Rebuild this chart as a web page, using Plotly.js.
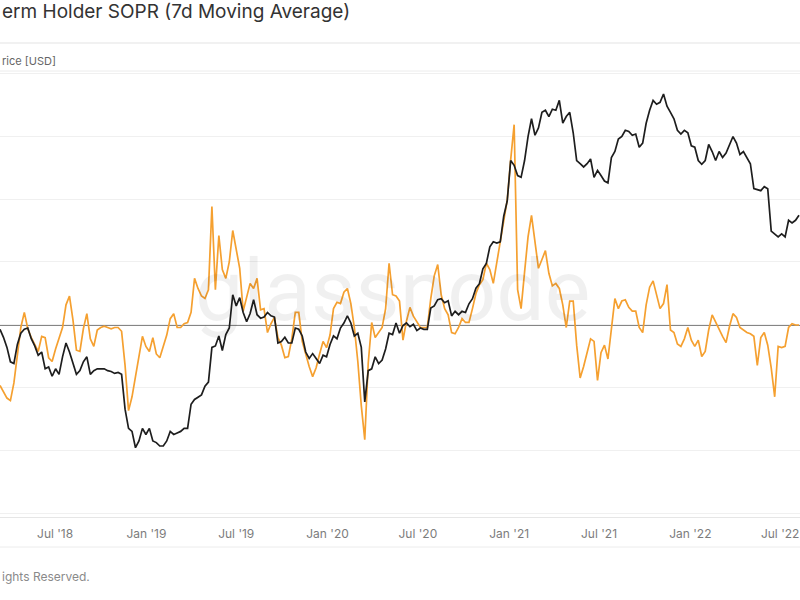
<!DOCTYPE html>
<html>
<head>
<meta charset="utf-8">
<script src="https://cdn.plot.ly/plotly-3.0.1.min.js"></script>
<style>html,body{margin:0;padding:0;background:#fff;}#chart{width:800px;height:600px;}</style>
</head>
<body>
<div id="chart"></div>
<script>
// Weekly samples starting Monday 2018-03-12
const startDate = "2018-03-12";
const weeks = 231;

// BTC price [USD], weekly
const price = [
  // 2018
  9200, 8600, 7900, 7000, 6900, 8100, 8900, 9200, 9300, 8500, 8000, 7400, 7600, 6600, 6700, 6200,
  6600, 6300, 7300, 8200, 7600, 6900, 6300, 6500, 7000, 7300, 6300, 6500, 6600, 6600, 6600, 6500,
  6450, 6350, 6400, 6300, 4700, 4000, 3900, 3400, 3600, 4000, 3800,
  // 2019
  4000, 3600, 3550, 3450, 3450, 3600, 3900, 3800, 3850, 3900, 4000, 4000, 4900, 5100, 5200, 5300,
  5700, 5900, 7900, 8000, 8700, 7700, 8800, 9300, 12300, 11200, 12000, 10600, 9800, 10500, 11800, 10400,
  10100, 10200, 10600, 10300, 10200, 8200, 8300, 8600, 8200, 8200, 9300, 9200, 8700, 7600, 7200, 7500,
  7200, 6900, 7400, 7300,
  // 2020
  8100, 8700, 8500, 9300, 9700, 10300, 9700, 8700, 8900, 7900, 5000, 6500, 6600, 7300, 6900, 7100,
  7800, 8900, 8800, 9700, 8900, 9500, 9700, 9400, 9600, 9100, 9300, 9200, 9200, 11000, 11200, 11800,
  11900, 11500, 11700, 10300, 10700, 10400, 10700, 10600, 11400, 11900, 13000, 13500, 15300, 16000, 18400, 19200,
  19000, 19200, 23800, 27000,
  // 2021
  38000, 36500, 33500, 33000, 38000, 46500, 54000, 47000, 50000, 57000, 58000, 55000, 58500, 58000, 63000, 52000,
  55000, 57000, 48000, 38000, 37000, 36000, 37000, 38500, 33000, 35000, 33500, 32000, 31500, 39000, 41000, 45500,
  46500, 49000, 48500, 47000, 47500, 42500, 44000, 52000, 58000, 63000, 61000, 62000, 66500, 60000, 57000, 54000,
  49000, 47500, 49000, 48000,
  // 2022
  43000, 42500, 38000, 36800, 38000, 43500, 41000, 38000, 41000, 39000, 40500, 43500, 46500, 44000, 40000, 41000,
  39000, 37000, 30000, 29800, 29500, 30500, 30000, 21000, 20500, 20000, 20500, 20000, 23000, 22500, 23000, 24000
];

// Short-Term Holder SOPR (7d MA), weekly
const sopr = [
  0.952, 0.947, 0.942, 0.940, 0.954, 0.976, 0.998, 1.010, 0.997, 0.990,
  0.985, 0.979, 0.991, 0.990, 0.974, 0.971, 0.981, 0.990, 0.998, 1.016,
  1.023, 1.004, 0.980, 0.979, 0.997, 1.009, 0.989, 0.983, 0.996, 0.998,
  0.999, 0.998, 0.997, 0.998, 0.998, 0.995, 0.968, 0.932, 0.943, 0.959,
  0.976, 0.991, 0.983, 0.979, 0.990, 0.977, 0.974, 0.983, 0.992, 1.005,
  1.009, 0.998, 0.998, 1.001, 1.002, 1.010, 1.037, 1.029, 1.023, 1.021,
  1.028, 1.094, 1.028, 1.071, 1.044, 1.037, 1.050, 1.075, 1.060, 1.045,
  1.011, 1.021, 1.033, 1.029, 1.037, 1.012, 1.013, 0.994, 1.001, 1.006,
  0.990, 0.984, 0.974, 0.975, 0.989, 1.010, 1.010, 0.987, 0.976, 0.967,
  0.959, 0.966, 0.977, 0.987, 0.982, 0.992, 1.013, 1.018, 1.017, 1.026,
  1.029, 1.017, 0.998, 0.971, 0.936, 0.909, 0.970, 1.002, 0.990, 0.994,
  0.998, 1.013, 1.049, 1.024, 1.023, 1.019, 0.988, 1.003, 1.014, 1.007,
  1.002, 0.998, 0.998, 0.998, 1.021, 1.039, 1.048, 1.024, 1.013, 1.008,
  0.994, 0.993, 0.998, 1.005, 1.002, 1.002, 1.013, 1.025, 1.032, 1.036,
  1.049, 1.044, 1.033, 1.049, 1.067, 1.082, 1.099, 1.131, 1.159, 1.028,
  1.013, 1.042, 1.070, 1.087, 1.066, 1.045, 1.052, 1.059, 1.041, 1.031,
  1.033, 1.029, 1.016, 0.998, 1.019, 1.019, 0.984, 0.958, 0.967, 0.979,
  0.989, 0.987, 0.956, 0.978, 0.984, 0.973, 0.998, 1.021, 1.013, 1.019,
  1.020, 1.014, 1.011, 1.011, 0.998, 0.994, 1.016, 1.030, 1.035, 1.024,
  1.013, 1.017, 1.032, 0.996, 0.994, 0.985, 0.983, 0.989, 0.998, 0.988,
  0.983, 0.988, 0.975, 0.979, 0.996, 1.008, 1.002, 0.997, 0.991, 0.986,
  0.999, 1.009, 1.006, 0.998, 0.996, 0.994, 0.993, 0.991, 0.968, 0.990,
  0.994, 0.984, 0.966, 0.943, 0.983, 0.982, 0.983, 0.998, 1.001, 1.000,
  1.000
];

const titleText = "erm Holder SOPR (7d Moving Average)";
const legendText = "rice [USD]";
const footerText = "ights Reserved.";
const watermarkText = "glassnode";
const xRange = ["2018-03-12", "2022-08-10"];

// weekly date axis
const dates = [];
const t0 = Date.parse(startDate + "T00:00:00Z");
for (let i = 0; i < weeks; i++) {
  dates.push(new Date(t0 + i * 7 * 86400000).toISOString().slice(0, 10));
}

const traces = [
  {x: dates, y: sopr, type: "scatter", mode: "lines", yaxis: "y",
   line: {color: "#f5a030", width: 1.7}, hoverinfo: "skip"},
  {x: dates, y: price, type: "scatter", mode: "lines", yaxis: "y2",
   line: {color: "#1e1e1e", width: 1.7}, hoverinfo: "skip"}
];

const plotTop = 72, plotBottom = 517, H = plotBottom - plotTop;
const py = (pix) => (plotBottom - pix) / H;

const layout = {
  width: 800, height: 600,
  margin: {l: 0, r: 0, t: plotTop, b: 600 - plotBottom, pad: 0},
  paper_bgcolor: "#ffffff", plot_bgcolor: "#ffffff",
  showlegend: false,
  font: {family: "Inter, 'Open Sans', sans-serif"},
  xaxis: {
    type: "date", range: xRange, tickformat: "%b '%y", dtick: "M6", tick0: "2018-01-01",
    showgrid: false, zeroline: false, showline: true, linecolor: "#e6e6e6", linewidth: 1,
    ticks: "", ticklabelstandoff: 6,
    tickfont: {family: "Inter, 'Open Sans', sans-serif", size: 12, color: "#7c7c7c"}
  },
  yaxis: {
    range: [0.8476, 1.2008], dtick: 0.05, tick0: 1, showgrid: true, gridcolor: "#f0f0f0",
    gridwidth: 1, showticklabels: false, zeroline: false, ticks: ""
  },
  yaxis2: {
    type: "log", range: [3.2786, 4.903], overlaying: "y", side: "right",
    showgrid: false, showticklabels: false, zeroline: false, ticks: ""
  },
  shapes: [
    {type: "line", xref: "paper", yref: "y", x0: 0, x1: 1, y0: 1, y1: 1,
     line: {color: "#5c5c5c", width: 1.5}, layer: "between"},
    {type: "line", xref: "paper", yref: "paper", x0: 0, x1: 1, y0: py(547), y1: py(547),
     line: {color: "#ececec", width: 1}},
    {type: "line", xref: "paper", yref: "paper", x0: 0, x1: 1, y0: py(43), y1: py(43),
     line: {color: "#ececec", width: 1.5}},
    {type: "line", xref: "paper", yref: "paper", x0: 0, x1: 1, y0: py(71), y1: py(71),
     line: {color: "#ececec", width: 1}}
  ],
  annotations: [
    {text: titleText, xref: "paper", yref: "paper", x: 0, y: py(12), xanchor: "left", yanchor: "middle",
     showarrow: false, font: {family: "Inter, 'Open Sans', sans-serif", size: 19, color: "#333333"}},
    {text: legendText, xref: "paper", yref: "paper", x: 0, y: py(61), xanchor: "left", yanchor: "middle",
     showarrow: false, font: {family: "Inter, 'Open Sans', sans-serif", size: 11, color: "#666666"}},
    {text: footerText, xref: "paper", yref: "paper", x: 0, y: py(576), xanchor: "left", yanchor: "middle",
     showarrow: false, font: {family: "Inter, 'Open Sans', sans-serif", size: 12, color: "#8a8a8a"}},
    {text: watermarkText, xref: "paper", yref: "paper", x: 0.49, y: py(290), xanchor: "center", yanchor: "middle",
     showarrow: false, font: {family: "Roboto, sans-serif", size: 86, color: "rgba(0,0,0,0.06)"}}
  ]
};

Plotly.newPlot("chart", traces, layout, {staticPlot: true, displayModeBar: false});
</script>
</body>
</html>
